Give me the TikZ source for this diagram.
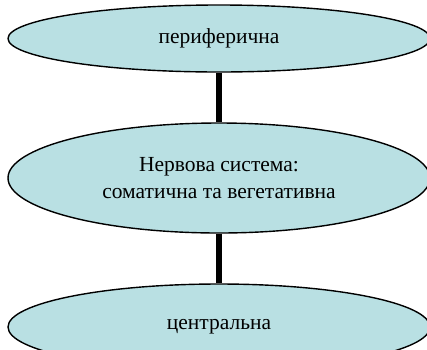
\documentclass[tikz,border=0pt]{standalone}
\usepackage{fontspec}
\setmainfont{Liberation Serif}
\usetikzlibrary{shapes.geometric}
\definecolor{elfill}{HTML}{B9E0E3}
\tikzset{
  oval/.style={ellipse, draw=black, line width=1.4pt, fill=elfill, inner sep=0pt,
    minimum width=422pt, align=center, font=\fontsize{21.5}{27}\selectfont},
  link/.style={line width=5.5pt, black}
}
\begin{document}
\begin{tikzpicture}[x=1pt,y=-1pt]
\useasboundingbox (0,0) rectangle (427,349);
\clip (0,0) rectangle (427,349);
\node[oval, minimum height=67pt] (per) at (219,38.5) {периферична};
\node[oval, minimum height=110pt] (ns) at (219,178) {Нервова система:\\соматична та вегетативна};
\node[oval, minimum height=86pt] (cen) at (219,327) {\raisebox{5pt}{центральна}};
\draw[link] (per.south) -- (ns.north);
\draw[link] (ns.south) -- (cen.north);
\end{tikzpicture}
\end{document}
